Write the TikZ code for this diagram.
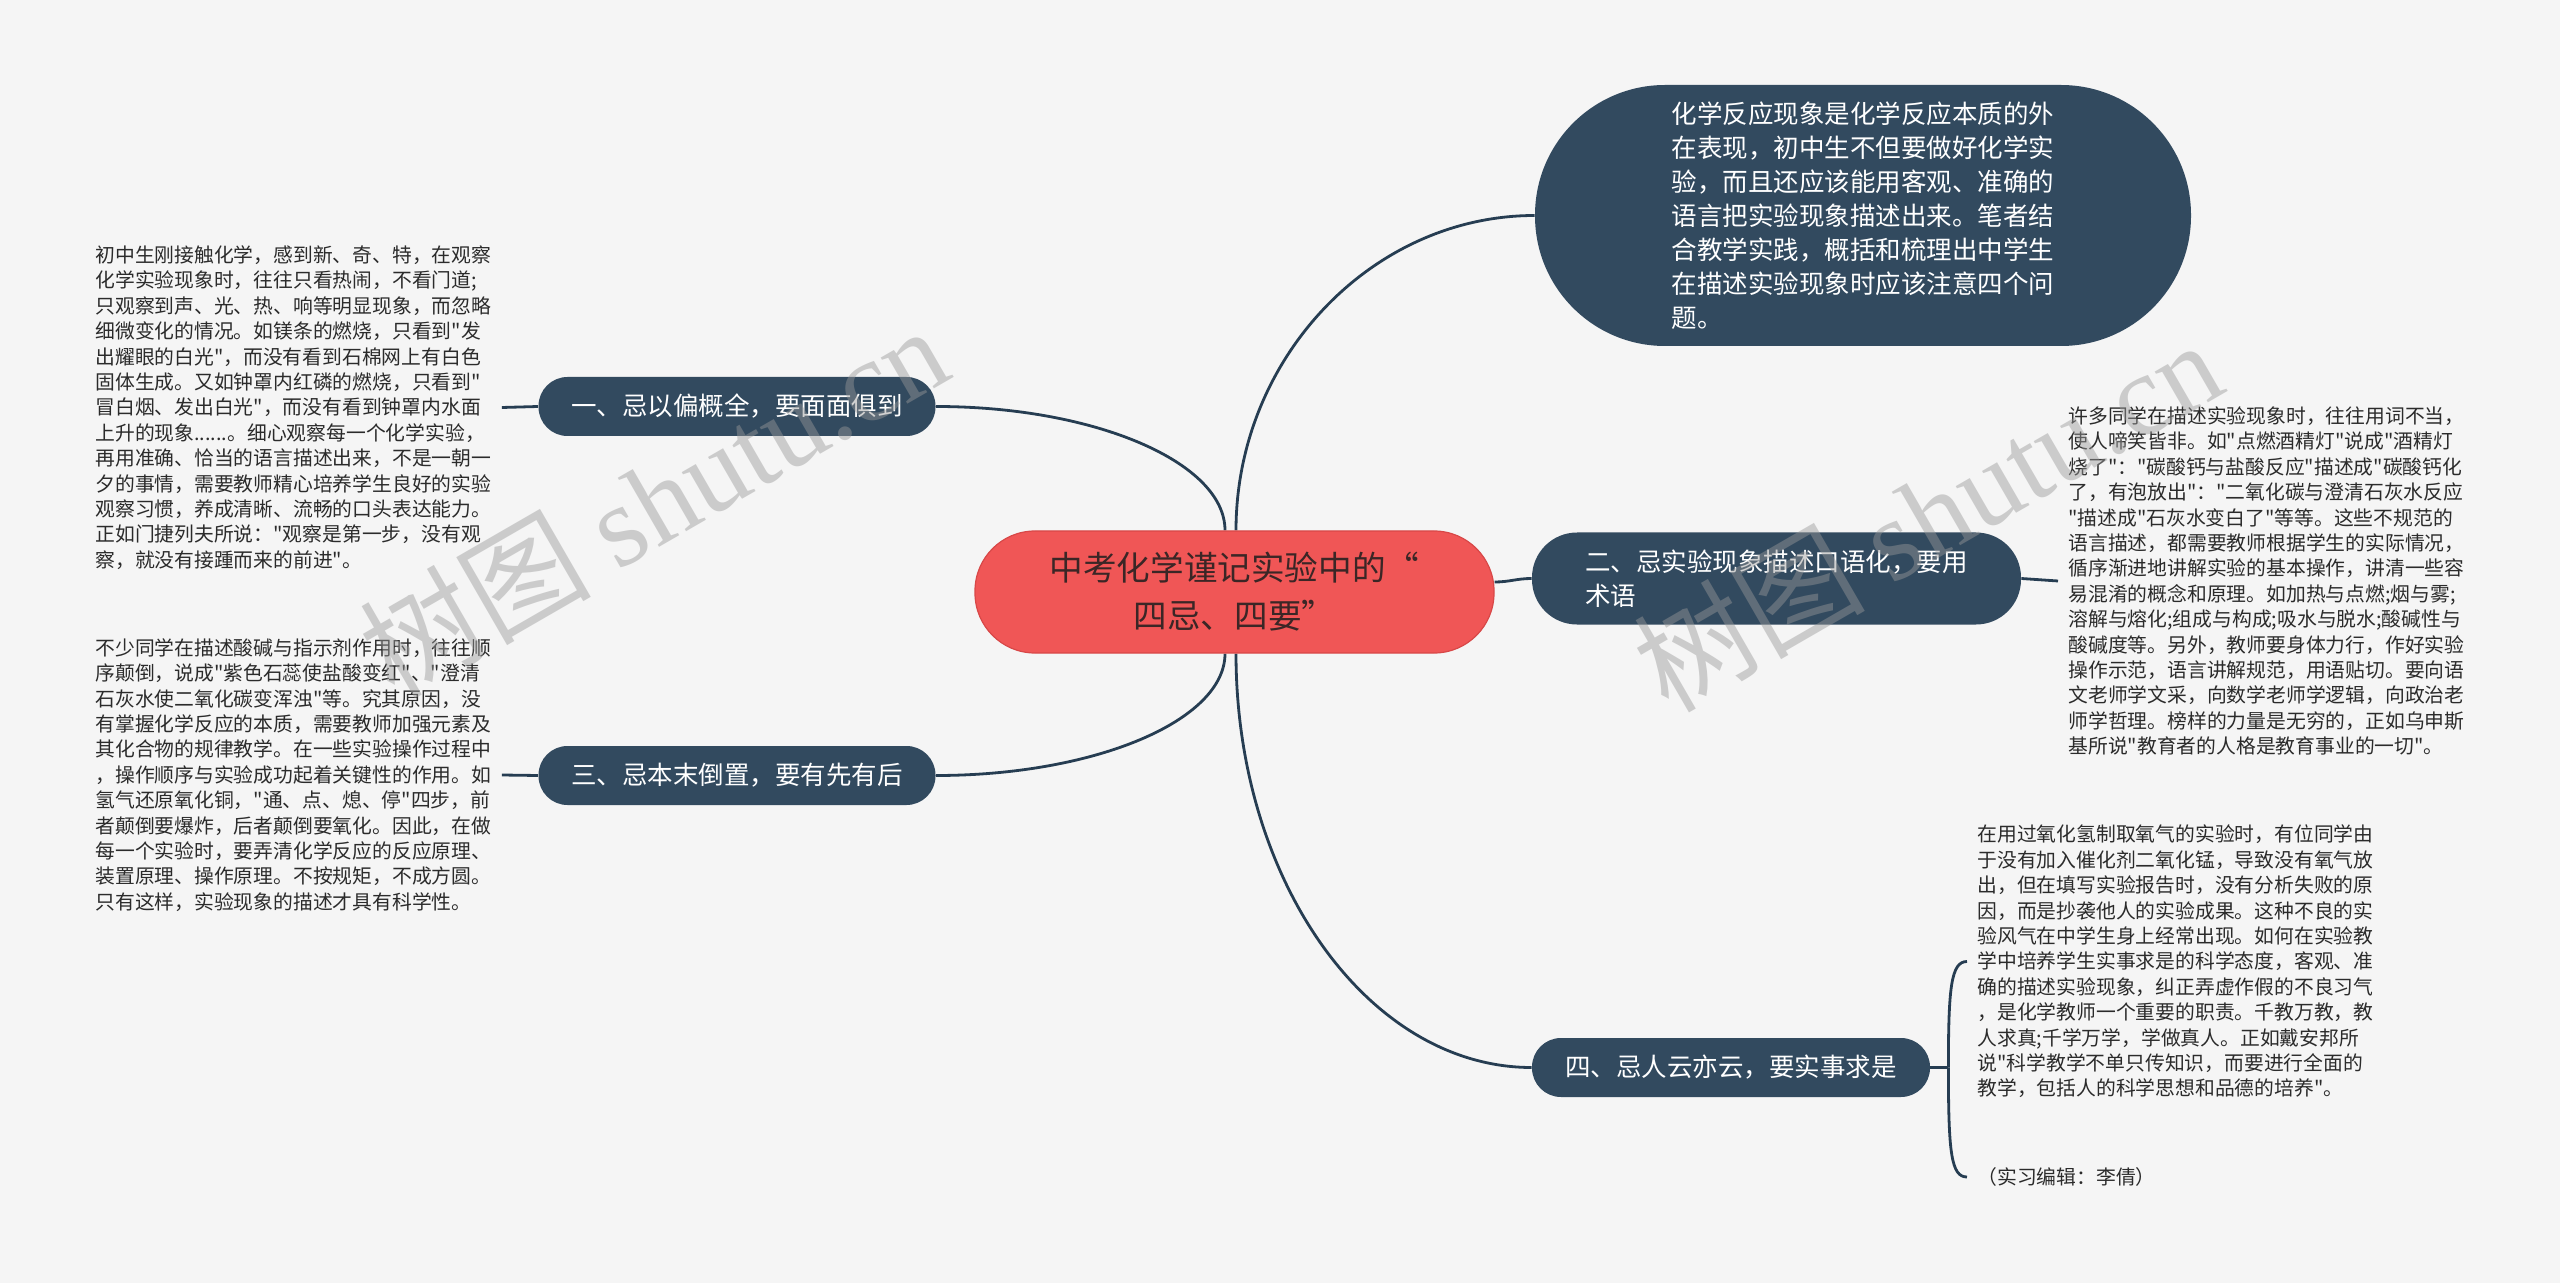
\documentclass[tikz,border=0pt]{standalone}
\usepackage{fontspec}
\setmainfont{Noto Sans CJK SC}[Ligatures=TeXOff]
\newfontfamily\wmserif{Liberation Serif}
\usetikzlibrary{calc}
\definecolor{bgC}{HTML}{F5F5F5}
\definecolor{nodeC}{HTML}{324A5F}
\definecolor{lineC}{HTML}{263D52}
\definecolor{ctrC}{HTML}{F05656}
\definecolor{ctrD}{HTML}{D84848}
\definecolor{ctrT}{HTML}{3B2626}
\definecolor{txtC}{HTML}{2B2B2B}
\pgfdeclarelayer{bg}
\pgfsetlayers{bg,main}
\tikzset{
  conn/.style={draw=lineC, line width=1.4pt},
  branch/.style={fill=nodeC, text=white, inner sep=0pt, align=left,
    font=\fontsize{12.75pt}{17pt}\selectfont},
  txtblock/.style={inner xsep=5pt, inner ysep=0pt, align=left, text=txtC,
    font=\fontsize{9.9pt}{12.7pt}\selectfont},
  wm/.style={text=gray!80, opacity=0.45, inner sep=0pt}
}
\begin{document}
\begin{tikzpicture}[x=0.5pt,y=-0.5pt]
\useasboundingbox (0,0) rectangle (2560,1283);
\begin{pgfonlayer}{bg}
\fill[bgC] (0,0) rectangle (2560,1283);
\end{pgfonlayer}

% central node
\node[fill=ctrC, draw=ctrD, line width=0.6pt, rounded corners=30pt,
  minimum width=259.5pt, minimum height=61pt, inner sep=0pt, align=center,
  text=ctrT, font=\fontsize{16.8pt}{24pt}\selectfont]
  (ctr) at (1234.5,592) {中考化学谨记实验中的“\\四忌、四要”};

% intro node
\node[branch, rounded corners=65pt, minimum width=328pt, minimum height=130.5pt]
  (intro) at (1863,215.5) {化学反应现象是化学反应本质的外\\在表现，初中生不但要做好化学实\\验，而且还应该能用客观、准确的\\语言把实验现象描述出来。笔者结\\合教学实践，概括和梳理出中学生\\在描述实验现象时应该注意四个问\\题。};

% branch nodes
\node[branch, rounded corners=14.5pt, minimum width=198.5pt, minimum height=29.5pt]
  (n1) at (737,406.5) {一、忌以偏概全，要面面俱到};
\node[branch, rounded corners=14.5pt, minimum width=198.5pt, minimum height=29.5pt]
  (n3) at (737,775.5) {三、忌本末倒置，要有先有后};
\node[branch, rounded corners=22.5pt, minimum width=244.5pt, minimum height=46pt]
  (n2) at (1776.5,578.5) {二、忌实验现象描述口语化，要用\\术语};
\node[branch, rounded corners=14.5pt, minimum width=199pt, minimum height=29.5pt]
  (n4) at (1731,1067.5) {四、忌人云亦云，要实事求是};

% text blocks
\node[txtblock, anchor=west] (t1) at (85,407.5) {初中生刚接触化学，感到新、奇、特，在观察\\化学实验现象时，往往只看热闹，不看门道;\\只观察到声、光、热、响等明显现象，而忽略\\细微变化的情况。如镁条的燃烧，只看到"发\\出耀眼的白光"，而没有看到石棉网上有白色\\固体生成。又如钟罩内红磷的燃烧，只看到"\\冒白烟、发出白光"，而没有看到钟罩内水面\\上升的现象......。细心观察每一个化学实验，\\再用准确、恰当的语言描述出来，不是一朝一\\夕的事情，需要教师精心培养学生良好的实验\\观察习惯，养成清晰、流畅的口头表达能力。\\正如门捷列夫所说："观察是第一步，没有观\\察，就没有接踵而来的前进"。};

\node[txtblock, anchor=west] (t3) at (85,775) {不少同学在描述酸碱与指示剂作用时，往往顺\\序颠倒，说成"紫色石蕊使盐酸变红"、"澄清\\石灰水使二氧化碳变浑浊"等。究其原因，没\\有掌握化学反应的本质，需要教师加强元素及\\其化合物的规律教学。在一些实验操作过程中\\，操作顺序与实验成功起着关键性的作用。如\\氢气还原氧化铜，"通、点、熄、停"四步，前\\者颠倒要爆炸，后者颠倒要氧化。因此，在做\\每一个实验时，要弄清化学反应的反应原理、\\装置原理、操作原理。不按规矩，不成方圆。\\只有这样，实验现象的描述才具有科学性。};

\node[txtblock, anchor=west] (t2) at (2058,581) {许多同学在描述实验现象时，往往用词不当，\\使人啼笑皆非。如"点燃酒精灯"说成"酒精灯\\烧了"："碳酸钙与盐酸反应"描述成"碳酸钙化\\了，有泡放出"："二氧化碳与澄清石灰水反应\\"描述成"石灰水变白了"等等。这些不规范的\\语言描述，都需要教师根据学生的实际情况，\\循序渐进地讲解实验的基本操作，讲清一些容\\易混淆的概念和原理。如加热与点燃;烟与雾;\\溶解与熔化;组成与构成;吸水与脱水;酸碱性与\\酸碱度等。另外，教师要身体力行，作好实验\\操作示范，语言讲解规范，用语贴切。要向语\\文老师学文采，向数学老师学逻辑，向政治老\\师学哲理。榜样的力量是无穷的，正如乌申斯\\基所说"教育者的人格是教育事业的一切"。};

\node[txtblock, anchor=west] (t4) at (1967,961.5) {在用过氧化氢制取氧气的实验时，有位同学由\\于没有加入催化剂二氧化锰，导致没有氧气放\\出，但在填写实验报告时，没有分析失败的原\\因，而是抄袭他人的实验成果。这种不良的实\\验风气在中学生身上经常出现。如何在实验教\\学中培养学生实事求是的科学态度，客观、准\\确的描述实验现象，纠正弄虚作假的不良习气\\，是化学教师一个重要的职责。千教万教，教\\人求真;千学万学，学做真人。正如戴安邦所\\说"科学教学不单只传知识，而要进行全面的\\教学，包括人的科学思想和品德的培养"。};

\node[txtblock, anchor=west] (cr) at (1967,1177) {（实习编辑：李倩）};

\coordinate (j4) at ($(n4.east)+(18,0)$);

% connectors
\begin{pgfonlayer}{bg}
\draw[conn] ($(ctr.north)+(1.5,0)$) .. controls +(0,-172) and +(-163,0) .. (intro.west);
\draw[conn] ($(ctr.north)+(-9.5,0)$) .. controls +(0,-68) and +(159,0) .. (n1.east);
\draw[conn] ($(ctr.south)+(-9.5,0)$) .. controls +(0,67) and +(159,0) .. (n3.east);
\draw[conn] ($(ctr.south)+(1.5,0)$) .. controls +(0,228) and +(-163,0) .. (n4.west);
\draw[conn] ($(ctr.east)+(0,-10)$) .. controls +(15,0) and +(-15,0) .. (n2.west);
\draw[conn] (n1.west) -- (t1.east);
\draw[conn] (n3.west) -- (t3.east);
\draw[conn] (n2.east) -- (t2.west);
\draw[conn] (n4.east) -- (j4);
\draw[conn] (j4) .. controls +(0,-80) and +(-16,0) .. (t4.west);
\draw[conn] (j4) .. controls +(0,85) and +(-16,0) .. (cr.west);
\end{pgfonlayer}

% watermarks
\node[wm, rotate=30] (wm1) at (653,500) {\fontsize{58pt}{58pt}\selectfont 树图 {\wmserif shutu.cn}};
\node[wm, rotate=30] (wm2) at (1927,514) {\fontsize{58pt}{58pt}\selectfont 树图 {\wmserif shutu.cn}};
\end{tikzpicture}
\end{document}
